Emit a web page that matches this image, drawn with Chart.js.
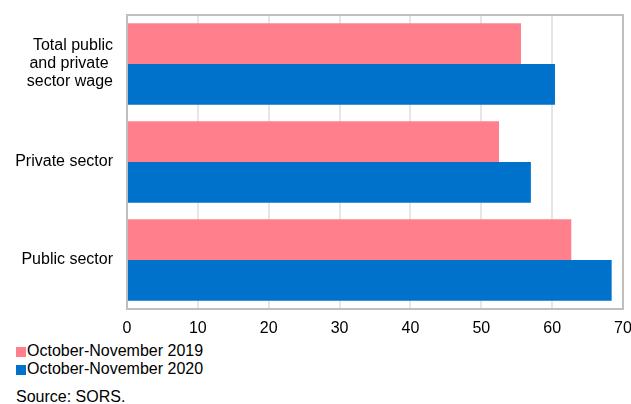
<!DOCTYPE html>
<html>
<head>
<meta charset="utf-8">
<script src="https://cdn.jsdelivr.net/npm/chart.js@4"></script>
<style>
  body { margin: 0; background: #fff; font-family: "Liberation Sans", Arial, sans-serif; color: #000; }
  #wrap { position: relative; width: 631px; height: 404px; overflow: hidden; }
  #wageChart { position: absolute; left: 0; top: 0; }
  #legend { position: absolute; left: 16px; top: 342px; font-size: 16px; line-height: 17.5px; }
  #legend .item { white-space: nowrap; }
  #legend .box { display: inline-block; width: 10px; height: 10px; margin-right: 1px; vertical-align: -1px; }
  #source { position: absolute; left: 16px; top: 388px; font-size: 16px; line-height: 18px; }
</style>
</head>
<body>
<div id="wrap">
  <canvas id="wageChart" width="631" height="340"></canvas>
  <div id="legend"></div>
  <div id="source">Source: SORS.</div>
</div>
<script>
// values
const categories = [
  ["Total public", "and private ", "sector wage"],
  "Private sector",
  "Public sector",
];
const seriesNames = ["October-November 2019", "October-November 2020"];
const values2019 = [55.6, 52.5, 62.7];
const values2020 = [60.4, 57.0, 68.4];
const xTicks = [0, 10, 20, 30, 40, 50, 60, 70];

const colors = ["#ff808c", "#0072cc"];

// grey frame round the plot area
const framePlugin = {
  id: "frame",
  beforeDatasetsDraw(chart) {
    const { ctx, chartArea } = chart;
    ctx.save();
    ctx.strokeStyle = "#bfbfbf";
    ctx.lineWidth = 2;
    ctx.strokeRect(chartArea.left, chartArea.top, chartArea.right - chartArea.left, chartArea.bottom - chartArea.top);
    ctx.restore();
  },
};

function wageChartConfig() {
  return {
    type: "bar",
    data: {
      labels: categories,
      datasets: [
        { label: seriesNames[0], data: values2019, backgroundColor: colors[0] },
        { label: seriesNames[1], data: values2020, backgroundColor: colors[1] },
      ],
    },
    options: {
      indexAxis: "y",
      responsive: false,
      animation: false,
      datasets: {
        bar: { categoryPercentage: 0.83, barPercentage: 1.0 },
      },
      layout: { padding: { left: 0, right: 8, top: 15, bottom: 0 } },
      plugins: {
        legend: { display: false },
        tooltip: { enabled: false },
      },
      scales: {
        x: {
          min: 0,
          max: 70,
          afterBuildTicks: (axis) => {
            axis.ticks = xTicks.map((v) => ({ value: v }));
          },
          afterFit: (axis) => {
            // fixed size, the labels may hang over the edges
            axis.height = 31;
            axis.paddingLeft = 0;
            axis.paddingRight = 0;
          },
          grid: { color: "#e6e6e6", lineWidth: 2, drawTicks: false },
          border: { display: false },
          ticks: {
            color: "#000",
            padding: 10,
            font: { family: "'Liberation Sans', Arial, sans-serif", size: 16 },
          },
        },
        y: {
          afterFit: (axis) => {
            axis.width = 127;
            axis.paddingTop = 0;
            axis.paddingBottom = 0;
          },
          grid: { display: false, drawTicks: false },
          border: { display: false },
          ticks: {
            color: "#000",
            padding: 14,
            font: { family: "'Liberation Sans', Arial, sans-serif", size: 16, lineHeight: 1.125 },
          },
        },
      },
    },
    plugins: [framePlugin],
  };
}

function buildLegend() {
  const legend = document.getElementById("legend");
  seriesNames.forEach((name, i) => {
    const item = document.createElement("div");
    item.className = "item";
    item.innerHTML = '<span class="box" style="background:' + colors[i] + '"></span>' + name;
    legend.appendChild(item);
  });
}

const ctx = document.getElementById("wageChart").getContext("2d");
new Chart(ctx, wageChartConfig());
buildLegend();
</script>
</body>
</html>
